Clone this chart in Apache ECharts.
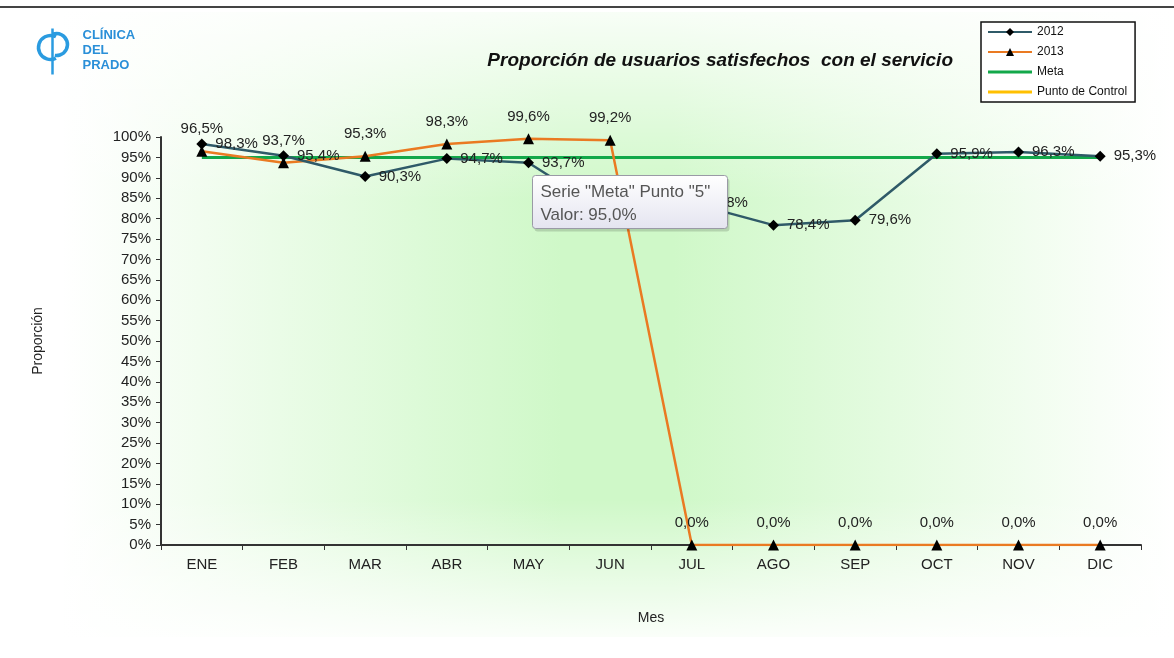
<!DOCTYPE html>
<html><head><meta charset="utf-8">
<script src="https://cdn.jsdelivr.net/npm/echarts@6/dist/echarts.min.js"></script>
<style>html,body{margin:0;padding:0;background:#fff}#c{width:1174px;height:658px}</style>
</head><body><div id="c"></div>
<script>
const months = ['ENE','FEB','MAR','ABR','MAY','JUN','JUL','AGO','SEP','OCT','NOV','DIC'];
const serie2012 = [98.3,95.4,90.3,94.7,93.7,81.0,83.8,78.4,79.6,95.9,96.3,95.3];
const serie2013 = [96.5,93.7,95.3,98.3,99.6,99.2,0.0,0.0,0.0,0.0,0.0,0.0];
const meta = [95,95,95,95,95,95,95,95,95,95,95,95];
const puntoControl = [];
const yTicks = {min:0, max:100, step:5};

const fmt = v => v.toFixed(1).replace('.',',') + '%';
const chart = echarts.init(document.getElementById('c'));
const FF = 'Liberation Sans, Arial';
const lblFont = {fontFamily:FF, fontSize:15, color:'#222'};
const lineIcon = 'path://M0,0L0.01,0M0,3.5H44V6.5H0ZM44,10L43.99,10';
chart.setOption({
  animation:false,
  graphic:[
    {type:'line', shape:{x1:0,y1:7,x2:1174,y2:7}, style:{stroke:'#444',lineWidth:2}, z:-1},
    {type:'rect', shape:{x:62,y:12,width:1110,height:625}, z:-10, silent:true,
      style:{fill:new echarts.graphic.LinearGradient(0,0,1,0,[
        {offset:0,color:'#ffffff'},{offset:0.45,color:'#cff8c8'},{offset:0.55,color:'#cff8c8'},{offset:1,color:'#ffffff'}])}},
    {type:'rect', shape:{x:62,y:12,width:1110,height:625}, z:-9, silent:true,
      style:{fill:new echarts.graphic.LinearGradient(0,0,0,1,[
        {offset:0,color:'rgba(255,255,255,0.85)'},{offset:0.3,color:'rgba(255,255,255,0)'},
        {offset:0.78,color:'rgba(255,255,255,0)'},{offset:1,color:'rgba(255,255,255,0.9)'}])}},
    {type:'group', left:36, top:26, children:[
      {type:'arc', shape:{cx:13,cy:25,r:12,startAngle:Math.PI*0.35,endAngle:Math.PI*1.65,clockwise:true}, style:{stroke:'#2a9be0',lineWidth:3.5,fill:null}},
      {type:'arc', shape:{cx:19,cy:22,r:11,startAngle:-Math.PI*0.6,endAngle:Math.PI*0.55,clockwise:true}, style:{stroke:'#2a9be0',lineWidth:3.5,fill:null}},
      {type:'line', shape:{x1:15,y1:6,x2:15,y2:52}, style:{stroke:'#2a9be0',lineWidth:2.5}},
      {type:'text', x:45, y:5, style:{text:'CLÍNICA\nDEL\nPRADO', fill:'#2a8fd8', font:'bold 13px '+FF, lineHeight:15}}
    ]},
    {type:'text', right:221, top:51, style:{text:'Proporción de usuarios satisfechos  con el servicio', fill:'#111', font:'italic bold 19px '+FF, textAlign:'right'}},
    {type:'group', left:532, top:175, children:[
      {type:'rect', z:100, shape:{x:2,y:3,width:195,height:53,r:3}, style:{fill:'rgba(0,0,0,0.15)'}},
      {type:'rect', z:101, shape:{x:0,y:0,width:195,height:53,r:3}, style:{
        fill:new echarts.graphic.LinearGradient(0,0,0,1,[{offset:0,color:'#ffffff'},{offset:1,color:'#e4e4f0'}]),
        stroke:'#9a9aa6',lineWidth:1}},
      {type:'text', z:102, x:8, y:5, style:{text:'Serie "Meta" Punto "5"\nValor: 95,0%', fill:'#555', font:'17px '+FF, lineHeight:23}}
    ]}
  ],
  legend:{
    left:981, top:22, orient:'vertical', itemWidth:44, itemHeight:10, itemGap:8,
    borderColor:'#111', borderWidth:1.5, padding:[4,8,4,6],
    backgroundColor:'#fff',
    textStyle:{fontFamily:FF, fontSize:12, color:'#111'},
    data:['2012','2013',{name:'Meta',icon:lineIcon},{name:'Punto de Control',icon:lineIcon}]
  },
  grid:{left:161, right:33, top:137, bottom:113},
  xAxis:{
    type:'category', data:months, boundaryGap:true,
    name:'Mes', nameLocation:'middle', nameGap:66,
    nameTextStyle:{fontFamily:FF, fontSize:14, color:'#222'},
    axisLine:{lineStyle:{color:'#333',width:2}},
    axisTick:{show:true, length:5, lineStyle:{color:'#333'}},
    axisLabel:{fontFamily:FF, fontSize:15, color:'#222', margin:12}
  },
  yAxis:{
    type:'value', min:yTicks.min, max:yTicks.max, interval:yTicks.step,
    name:'Proporción', nameLocation:'middle', nameGap:116, nameRotate:90,
    nameTextStyle:{fontFamily:FF, fontSize:14, color:'#222'},
    axisLine:{show:true, lineStyle:{color:'#333',width:2}},
    axisTick:{show:true, length:5, lineStyle:{color:'#333'}},
    splitLine:{show:false},
    axisLabel:{formatter:'{value}%', fontFamily:FF, fontSize:15, color:'#222', margin:10}
  },
  series:[
    {name:'Meta', type:'line', data:meta, symbol:'none', z:2,
      lineStyle:{color:'#12a84a', width:3}, itemStyle:{color:'#12a84a'}},
    {name:'2013', type:'line', data:serie2013, symbol:'triangle', symbolSize:11, z:3,
      lineStyle:{color:'#ea7a22', width:2.5}, itemStyle:{color:'#000'},
      label:{show:true, position:'top', distance:9, formatter:p=>fmt(p.value), ...lblFont}},
    {name:'2012', type:'line', data:serie2012, symbol:'diamond', symbolSize:11, z:4,
      lineStyle:{color:'#2f5a68', width:2.5}, itemStyle:{color:'#000'},
      label:{show:true, position:'right', distance:8, formatter:p=>fmt(p.value), ...lblFont}},
    {name:'Punto de Control', type:'line', data:puntoControl, symbol:'none',
      lineStyle:{color:'#ffc000', width:3}, itemStyle:{color:'#ffc000'}}
  ]
});
</script></body></html>
